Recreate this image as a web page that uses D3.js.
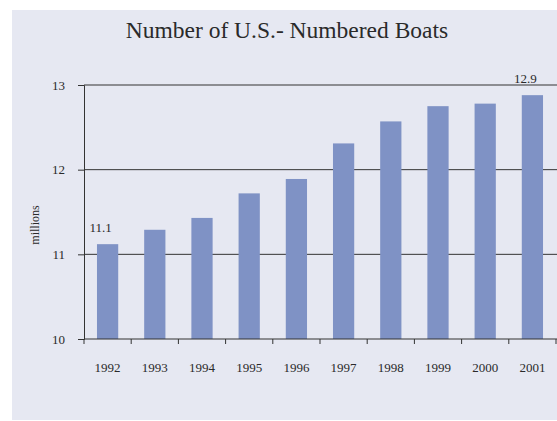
<!DOCTYPE html>
<html><head><meta charset="utf-8">
<script src="https://cdn.jsdelivr.net/npm/d3@7/dist/d3.min.js"></script>
<style>body{margin:0;background:#fff}svg{display:block}text{font-family:"Liberation Serif","DejaVu Serif",serif;fill:#2a2a2a}</style>
</head><body><svg id="c" width="557" height="421"></svg>
<script>
const years = ["1992","1993","1994","1995","1996","1997","1998","1999","2000","2001"];
const boats = [11.12, 11.29, 11.43, 11.72, 11.89, 12.31, 12.57, 12.75, 12.78, 12.88];
const yTicks = [10, 11, 12, 13];
const labeled = {"1992":"11.1","2001":"12.9"};

const svg = d3.select("#c");
svg.append("rect").attr("x",12).attr("y",10).attr("width",545).attr("height",410).attr("fill","#e6e8f2");

const m = {left:84, right:556, top:85, bottom:339};
const x = d3.scaleBand().domain(years).range([m.left, m.right]).paddingInner(0.55).paddingOuter(0.275);
const y = d3.scaleLinear().domain([10,13]).range([m.bottom, m.top]);

svg.append("text").attr("x",287).attr("y",38).attr("text-anchor","middle").style("font-size","23.5px").text("Number of  U.S.- Numbered Boats");

// gridlines
svg.append("g").selectAll("line").data(yTicks.slice(1)).join("line")
  .attr("x1",m.left).attr("x2",557).attr("y1",d=>y(d)).attr("y2",d=>y(d))
  .attr("stroke","#333").attr("stroke-width",1);

// bars
svg.append("g").selectAll("rect").data(years).join("rect")
  .attr("x",d=>x(d)).attr("width",x.bandwidth())
  .attr("y",(d,i)=>y(boats[i])).attr("height",(d,i)=>y(10)-y(boats[i]))
  .attr("fill","#7f92c5");

// y axis
const ya = svg.append("g").attr("transform",`translate(${m.left},0)`)
  .call(d3.axisLeft(y).tickValues(yTicks).tickFormat(d3.format("d")).tickSize(6).tickPadding(13));
ya.select(".domain").attr("stroke","#333");
ya.selectAll(".tick line").attr("stroke","#333");
ya.selectAll("text").style("font-size","13px").attr("fill","#2a2a2a").style("font-family","Liberation Serif");

// x axis
const xb = d3.scaleLinear().domain([0, years.length]).range([m.left, m.right]);
const xa = svg.append("g").attr("transform",`translate(0,${m.bottom})`);
xa.append("line").attr("x1",m.left).attr("x2",557).attr("stroke","#333");
xa.selectAll(".tk").data(d3.range(years.length+1)).join("line").attr("class","tk")
  .attr("x1",d=>xb(d)).attr("x2",d=>xb(d)).attr("y1",0).attr("y2",5).attr("stroke","#333");
xa.selectAll("text").data(years).join("text")
  .attr("x",d=>x(d)+x.bandwidth()/2).attr("y",33).attr("text-anchor","middle")
  .style("font-size","13px").text(d=>d);

// labels
svg.append("g").selectAll("text").data(years.filter(d=>labeled[d])).join("text")
  .attr("x",d=>x(d)+x.bandwidth()/2-7).attr("y",d=>y(boats[years.indexOf(d)])-12)
  .attr("text-anchor","middle").style("font-size","13px").text(d=>labeled[d]);

svg.append("text").attr("transform","translate(39,225) rotate(-90)").attr("text-anchor","middle")
  .style("font-size","12px").text("millions");
</script></body></html>
